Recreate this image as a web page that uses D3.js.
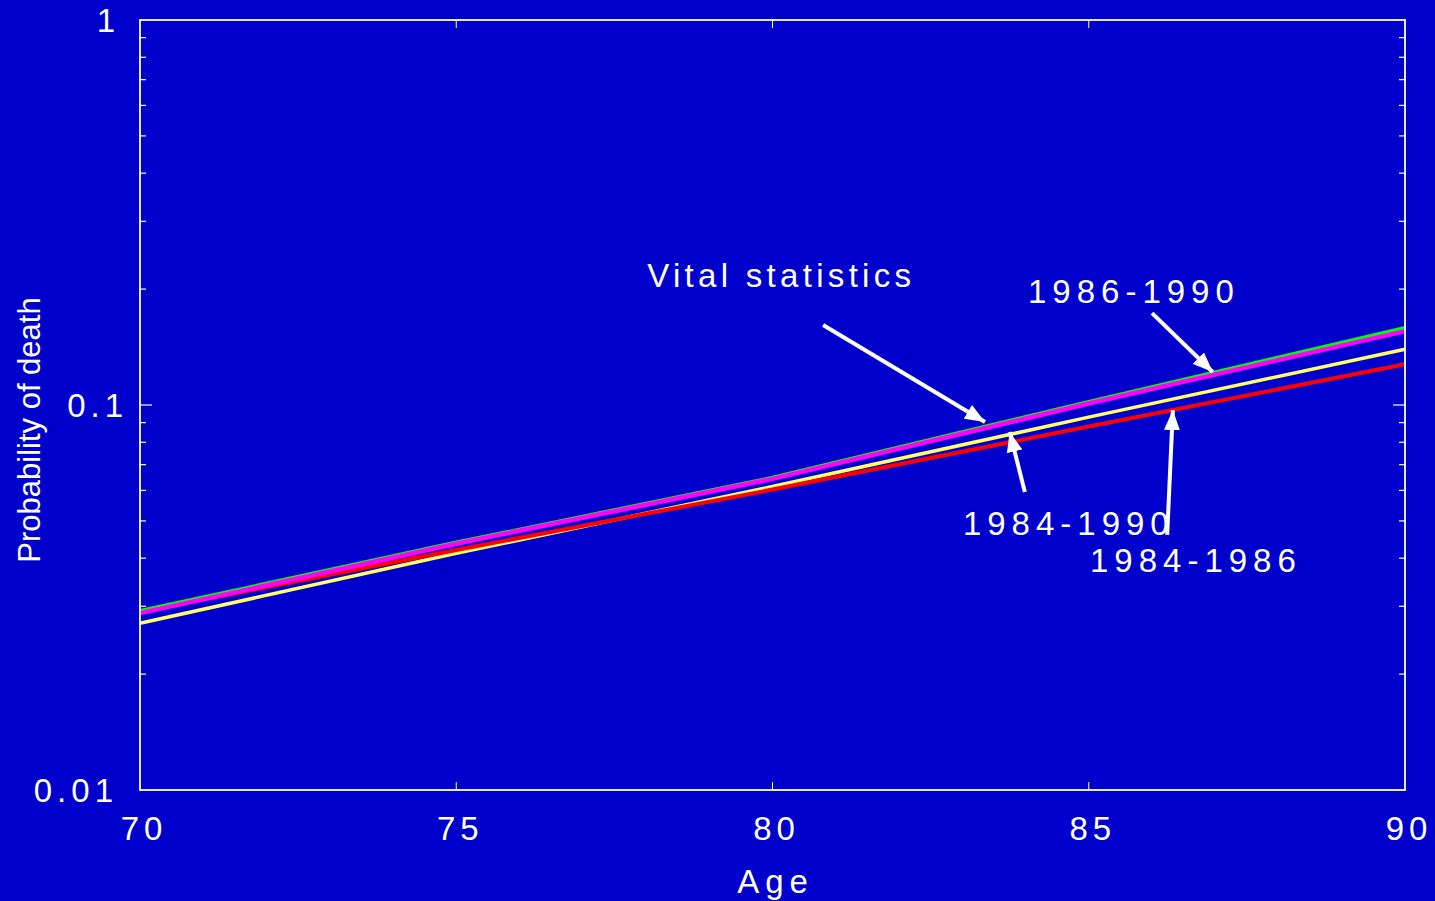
<!DOCTYPE html>
<html lang="en">
<head>
  <meta charset="UTF-8" />
  <script src="https://cdn.jsdelivr.net/npm/d3@7/dist/d3.min.js"></script>
  <title>Probability of death</title>
  <style>
    html, body { margin: 0; padding: 0; background: #0000cc; overflow: hidden; }
    text { font-family: "Liberation Sans", Arial, sans-serif; fill: #fff; }
  </style>
</head>
<body>
  <svg width="1435" height="901"></svg>
  <script>
    // ages
    const ages = [70, 75, 80, 85, 90];
    // probability of death per source (log y axis)
    const vitalStats = [0.0292, 0.0440, 0.0648, 0.1020, 0.1588];
    const p1986_1990 = [0.0288, 0.0436, 0.0643, 0.1009, 0.1556];
    const p1984_1990 = [0.0271, 0.0412, 0.0614, 0.0930, 0.1396];
    const p1984_1986 = [0.0290, 0.0420, 0.0603, 0.0879, 0.1276];

    const xTicks = [70, 75, 80, 85, 90];
    const yTicks = [0.01, 0.1, 1];
    const yTickLabels = ["0.01", "0.1", "1"];

    // annotations: label position, arrow tail, arrow tip (age, probability)
    const notes = [
      { text: "Vital statistics", at: [78.02, 0.2025], from: [80.80, 0.1614], to: [83.36, 0.0903], ls: 4.3 },
      { text: "1986-1990", at: [84.04, 0.184], from: [86.00, 0.1733], to: [86.96, 0.1218], ls: 6 },
      { text: "1984-1990", at: [83.01, 0.0460], from: [83.99, 0.0594], to: [83.75, 0.0851], ls: 6 },
      { text: "1984-1986", at: [85.02, 0.0368], from: [86.24, 0.0460], to: [86.33, 0.0970], ls: 6 }
    ];

    const svg = d3.select("svg");
    const margin = { top: 20, right: 30, bottom: 111, left: 140 };
    const width = +svg.attr("width");
    const height = +svg.attr("height");

    const x = d3.scaleLinear().domain([70, 90]).range([margin.left, width - margin.right]);
    const y = d3.scaleLog().domain([0.01, 1]).range([height - margin.bottom, margin.top]);

    // minor log ticks
    const minor = [];
    [0.01, 0.1].forEach(d => { for (let k = 2; k <= 9; k++) minor.push(d * k); });

    const tickG = svg.append("g").attr("stroke", "#fff");
    minor.forEach(v => {
      tickG.append("line").attr("x1", x(70)).attr("x2", x(70) + 6).attr("y1", y(v)).attr("y2", y(v)).attr("stroke-width", 1.2);
      tickG.append("line").attr("x1", x(90)).attr("x2", x(90) - 6).attr("y1", y(v)).attr("y2", y(v)).attr("stroke-width", 1.2);
    });
    tickG.append("line").attr("x1", x(70)).attr("x2", x(70) + 12).attr("y1", y(0.1)).attr("y2", y(0.1)).attr("stroke-width", 1.2);
    tickG.append("line").attr("x1", x(90)).attr("x2", x(90) - 12).attr("y1", y(0.1)).attr("y2", y(0.1)).attr("stroke-width", 1.2);
    [75, 80, 85].forEach(a => {
      tickG.append("line").attr("x1", x(a)).attr("x2", x(a)).attr("y1", y(1)).attr("y2", y(1) + 8).attr("stroke-width", 1);
      tickG.append("line").attr("x1", x(a)).attr("x2", x(a)).attr("y1", y(0.01)).attr("y2", y(0.01) - 8).attr("stroke-width", 1);
    });

    // series lines
    const line = d3.line().x((d, i) => x(ages[i])).y(d => y(d));
    const series = [
      { values: p1984_1990, color: "#ffff66", w: 3.5 },
      { values: p1984_1986, color: "#ff0000", w: 4 },
      { values: vitalStats, color: "#00ff00", w: 3.5 },
      { values: p1986_1990, color: "#ff00ff", w: 4.5 }
    ];
    svg.append("g").selectAll("path").data(series).join("path")
      .attr("d", d => line(d.values))
      .attr("fill", "none")
      .attr("stroke", d => d.color)
      .attr("stroke-width", d => d.w);

    // frame
    svg.append("rect")
      .attr("x", x(70)).attr("y", y(1))
      .attr("width", x(90) - x(70)).attr("height", y(0.01) - y(1))
      .attr("fill", "none").attr("stroke", "#fff").attr("stroke-width", 1.8);

    // tick labels
    svg.append("g").selectAll("text").data(xTicks).join("text")
      .attr("x", d => x(d) + 4).attr("y", 840)
      .attr("text-anchor", "middle")
      .attr("font-size", 33).attr("letter-spacing", 5)
      .text(d => d);
    svg.append("g").selectAll("text").data(yTicks).join("text")
      .attr("x", (d, i) => [118, 128, 120][i]).attr("y", d => y(d) + 12)
      .attr("text-anchor", "end")
      .attr("font-size", 33).attr("letter-spacing", 5)
      .text((d, i) => yTickLabels[i]);

    // axis titles
    svg.append("text").attr("x", x(80) + 3).attr("y", 893)
      .attr("text-anchor", "middle").attr("font-size", 33).attr("letter-spacing", 6)
      .text("Age");
    svg.append("text").attr("transform", "translate(40,430) rotate(-90)")
      .attr("text-anchor", "middle").attr("font-size", 31)
      .text("Probability of death");

    // annotations with arrows
    svg.append("defs").append("marker")
      .attr("id", "arrow").attr("markerUnits", "userSpaceOnUse")
      .attr("viewBox", "0 0 20 16").attr("refX", 20).attr("refY", 8)
      .attr("markerWidth", 20).attr("markerHeight", 16).attr("orient", "auto")
      .append("path").attr("d", "M0,0L20,8L0,16Z").attr("fill", "#fff");

    const ann = svg.append("g");
    notes.forEach(n => {
      ann.append("text").attr("x", x(n.at[0])).attr("y", y(n.at[1]))
        .attr("font-size", 33).attr("letter-spacing", n.ls).text(n.text);
      ann.append("line")
        .attr("x1", x(n.from[0])).attr("y1", y(n.from[1]))
        .attr("x2", x(n.to[0])).attr("y2", y(n.to[1]))
        .attr("stroke", "#fff").attr("stroke-width", 4)
        .attr("marker-end", "url(#arrow)");
    });
  </script>
</body>
</html>
